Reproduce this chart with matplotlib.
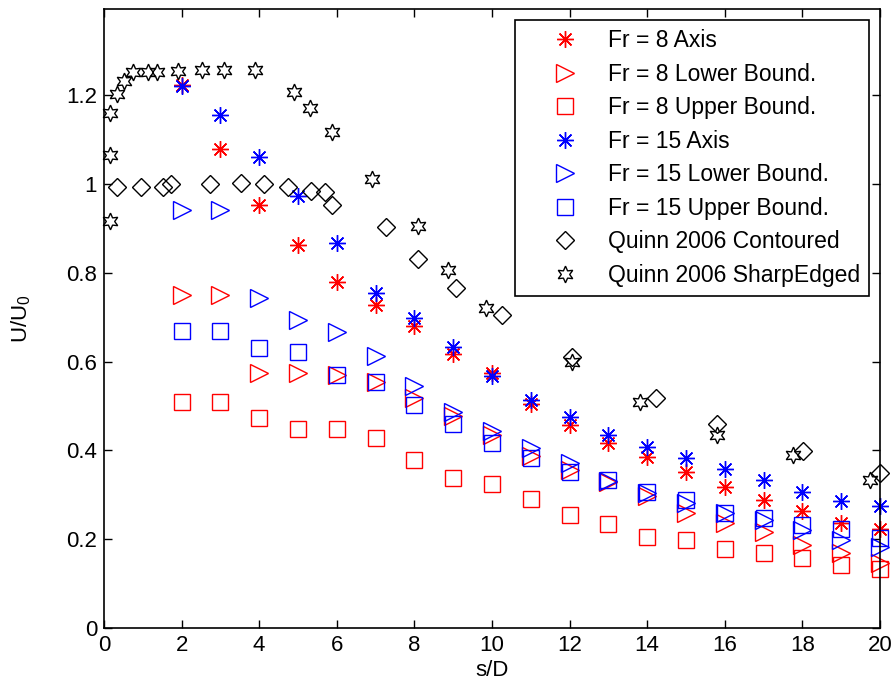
import matplotlib
matplotlib.use("Agg")
import matplotlib.pyplot as plt

plt.rcParams['font.family'] = ['Liberation Sans', 'DejaVu Sans']
plt.rcParams['mathtext.default'] = 'regular'

# Datos
sd = list(range(2, 21))

fr8_axis = [1.223, 1.079, 0.953, 0.863, 0.779, 0.727, 0.680, 0.617, 0.574, 0.504,
            0.457, 0.417, 0.384, 0.351, 0.318, 0.288, 0.264, 0.237, 0.224]
fr8_lower = [0.750, 0.750, 0.574, 0.574, 0.570, 0.554, 0.518, 0.478, 0.435, 0.387,
             0.356, 0.329, 0.298, 0.259, 0.236, 0.217, 0.187, 0.169, 0.146]
fr8_upper = [0.509, 0.509, 0.473, 0.448, 0.448, 0.428, 0.378, 0.338, 0.324, 0.291,
             0.255, 0.234, 0.205, 0.198, 0.178, 0.169, 0.158, 0.142, 0.133]
fr15_axis = [1.221, 1.155, 1.061, 0.973, 0.867, 0.755, 0.698, 0.633, 0.568, 0.514,
             0.475, 0.435, 0.408, 0.383, 0.358, 0.333, 0.306, 0.286, 0.275]
fr15_lower = [0.941, 0.941, 0.743, 0.694, 0.667, 0.613, 0.545, 0.486, 0.444, 0.405,
              0.371, 0.331, 0.304, 0.281, 0.259, 0.243, 0.221, 0.198, 0.183]
fr15_upper = [0.669, 0.669, 0.631, 0.622, 0.570, 0.554, 0.502, 0.459, 0.417, 0.383,
              0.351, 0.333, 0.306, 0.288, 0.259, 0.248, 0.232, 0.223, 0.203]

quinn_cont_x = [0.34, 0.95, 1.52, 1.73, 2.73, 3.53, 4.12, 4.74, 5.34, 5.70, 5.88,
                7.27, 8.09, 9.07, 10.26, 12.06, 14.23, 15.8, 18.02, 20.0]
quinn_cont_y = [0.993, 0.993, 0.993, 1.0, 1.0, 1.002, 1.0, 0.993, 0.984, 0.982, 0.953,
                0.903, 0.831, 0.766, 0.705, 0.610, 0.518, 0.459, 0.399, 0.349]
quinn_sharp_x = [0.15, 0.15, 0.15, 0.34, 0.52, 0.75, 1.13, 1.36, 1.90, 2.53, 3.10, 3.89,
                 4.90, 5.31, 5.88, 6.9, 8.09, 8.87, 9.85, 12.06, 13.81, 15.8, 17.76, 19.74]
quinn_sharp_y = [1.160, 1.065, 0.917, 1.203, 1.232, 1.252, 1.252, 1.252, 1.254, 1.257,
                 1.257, 1.257, 1.207, 1.171, 1.117, 1.011, 0.905, 0.806, 0.721, 0.599,
                 0.509, 0.435, 0.390, 0.333]

fig = plt.figure(figsize=(8.94, 6.85), dpi=100)
ax = fig.add_axes([0.1163, 0.0832, 0.868, 0.9038])

asterisco = (8, 2, 0)
comun = dict(linestyle='none', mew=1, clip_on=False)
ax.plot(sd, fr8_axis, marker=asterisco, ms=12, color='red', label='Fr = 8 Axis', **comun)
ax.plot(sd, fr8_lower, marker='>', ms=13, mfc='none', color='red',
        label='Fr = 8 Lower Bound.', **comun)
ax.plot(sd, fr8_upper, marker='s', ms=11, mfc='none', color='red',
        label='Fr = 8 Upper Bound.', **comun)
ax.plot(sd, fr15_axis, marker=asterisco, ms=12, color='blue', label='Fr = 15 Axis', **comun)
ax.plot(sd, fr15_lower, marker='>', ms=13, mfc='none', color='blue',
        label='Fr = 15 Lower Bound.', **comun)
ax.plot(sd, fr15_upper, marker='s', ms=11, mfc='none', color='blue',
        label='Fr = 15 Upper Bound.', **comun)
ax.plot(quinn_cont_x, quinn_cont_y, marker='D', ms=9.5, mfc='none', color='black',
        label='Quinn 2006 Contoured', **comun)
ax.plot(quinn_sharp_x, quinn_sharp_y, marker=(6, 1, 0), ms=12, mfc='none', color='black',
        label='Quinn 2006 SharpEdged', **comun)

ax.set_xlim(0, 20)
ax.set_ylim(0, 1.394)
ax.set_xticks(range(0, 21, 2))
ax.set_yticks([0, 0.2, 0.4, 0.6, 0.8, 1.0, 1.2])
ax.set_yticklabels(['0', '0.2', '0.4', '0.6', '0.8', '1', '1.2'])
ax.tick_params(direction='in', top=True, right=True, labelsize=16, length=6, width=1, pad=5)
for s in ax.spines.values():
    s.set_linewidth(1.2)

ax.set_xlabel('s/D', fontsize=16, labelpad=3)
ax.set_ylabel('U/U$_0$', fontsize=16, labelpad=24)

leg = ax.legend(loc='upper right', bbox_to_anchor=(0.9858, 0.9822), borderaxespad=0,
                fontsize=16.5, fancybox=False, edgecolor='black', framealpha=1,
                handlelength=3.6, handletextpad=0.05, labelspacing=0.46, borderpad=0.4,
                numpoints=1)
leg.get_frame().set_linewidth(1.2)

plt.savefig('out.png', dpi=100)
